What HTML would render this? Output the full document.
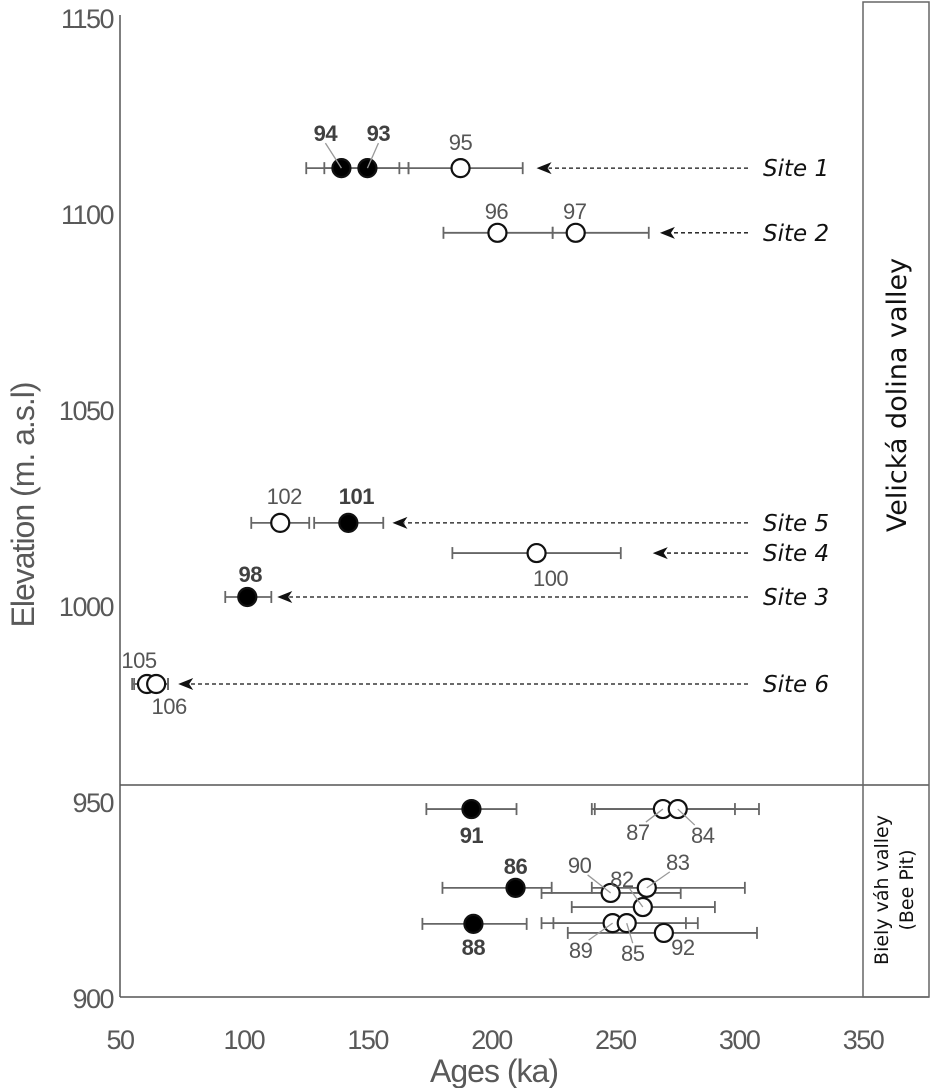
<!DOCTYPE html>
<html><head><meta charset="utf-8"><style>
html,body{margin:0;padding:0;background:#fff;}
svg{display:block;font-family:"Liberation Sans",sans-serif;}
</style></head><body>
<svg id="chart" width="930" height="1088" viewBox="0 0 930 1088" xmlns="http://www.w3.org/2000/svg">
<g id="frame">
<line x1="120" y1="15" x2="120" y2="997" stroke="#555" stroke-width="1.5"/>
<line x1="120" y1="997" x2="929" y2="997" stroke="#555" stroke-width="1.5"/>
<line x1="120" y1="785" x2="929" y2="785" stroke="#555" stroke-width="1.5"/>
<rect x="863" y="2" width="66" height="995" fill="none" stroke="#666" stroke-width="1.5"/>
<text transform="translate(906,395) rotate(-90)" text-anchor="middle" font-family="DejaVu Sans,sans-serif" font-size="27" fill="#111">Velická dolina valley</text>
<text transform="translate(888,890) rotate(-90)" text-anchor="middle" font-family="DejaVu Sans,sans-serif" font-size="19" fill="#111">Biely váh valley</text>
<text transform="translate(913,890) rotate(-90)" text-anchor="middle" font-family="DejaVu Sans,sans-serif" font-size="19" fill="#111">(Bee Pit)</text>
<text x="494" y="1082" text-anchor="middle" font-size="32" letter-spacing="-1" fill="#595959">Ages (ka)</text>
<text transform="translate(34,505) rotate(-90)" text-anchor="middle" font-size="32" letter-spacing="-1" fill="#595959">Elevation (m. a.s.l)</text>
</g>
<g id="axes"></g><g id="marks"></g>
</svg>
<script>
const xTicks=[50,100,150,200,250,300,350];
const yTicks=[900,950,1000,1050,1100,1150];
const sampleIds=['94','93','95','96','97','102','101','100','98','105','106','91','87','84','86','83','90','82','88','89','85','92'];
const ages=[139.4,149.9,187.5,202.4,234.0,114.7,142.2,218.2,101.4,60.9,64.6,191.9,269.2,275.2,209.7,262.7,248.1,261.1,192.7,248.9,254.6,269.6];
const ageLow=[125.2,132.5,166.5,180.6,224.7,103.0,128.4,184.2,92.5,54.9,55.7,173.7,240.5,241.7,180.2,240.5,220.2,232.4,172.1,220.2,225.0,230.8];
const ageHigh=[162.8,166.5,212.6,224.7,263.5,126.4,156.3,252.2,111.1,69.4,69.4,210.1,298.3,308.0,224.3,302.3,276.4,290.2,214.2,278.5,283.3,307.2];
const elevations=[1111.7,1111.7,1111.7,1095.2,1095.2,1021.2,1021.2,1013.5,1002.3,980.1,980.1,948.2,948.2,948.2,928.1,928.1,926.8,923.2,918.9,919.1,919.1,916.6];
const filled=[1,1,0,0,0,0,1,0,1,0,0,1,0,0,1,0,0,0,1,0,0,0];
const siteNames=['Site 1','Site 2','Site 5','Site 4','Site 3','Site 6'];
const siteElev=[1111.7,1095.2,1021.2,1013.5,1002.3,980.1];
const siteArrowAge=[218.2,268.0,160.0,265.1,113.5,73.5];
// layout (label offsets in px, not data)
const labelDx=[-16,11,0,-1,-1,4,8,14,3,-8,13,0,-25,25,0,31,-31,-21,0,-32,6,19];
const labelDy=[-35,-35,-26,-22,-22,-27,-27,25,-23,-24,22,26,23,26,-22,-26,-28,-28,23,27,30,14];
const leader=[1,1,0,0,0,0,0,0,0,0,0,0,1,1,0,1,1,1,0,1,1,0];
const X=v=>120+(v-50)*(743/300);
const Y=v=>998-(v-900)*3.92;
const NS='http://www.w3.org/2000/svg';
function mk(tag,attrs,parent,txt){const e=document.createElementNS(NS,tag);for(const k in attrs)e.setAttribute(k,attrs[k]);if(txt!==undefined)e.textContent=txt;parent.appendChild(e);return e;}
const axes=document.getElementById('axes'),marks=document.getElementById('marks');
xTicks.forEach(t=>{const e=mk('text',{x:X(t),y:1049,'text-anchor':'middle','font-size':'27','letter-spacing':'-1.5',fill:'#595959'},axes,String(t));

});
yTicks.forEach(t=>{const e=mk('text',{x:113,y:Y(t)+10,'text-anchor':'end','font-size':'27','letter-spacing':'-1.5',fill:'#595959'},axes,String(t));

});
siteNames.forEach((s,i)=>{const y=Y(siteElev[i]);const tx=X(siteArrowAge[i]);
const l=mk('line',{x1:748,y1:y,x2:tx+12,y2:y,stroke:'#111','stroke-width':'1.3','stroke-dasharray':'4,3'},marks);


const h=mk('polygon',{points:`${tx},${y} ${tx+15},${y-6} ${tx+11},${y} ${tx+15},${y+6}`,fill:'#111'},marks);


const t=mk('text',{x:763,y:y+8,'font-size':'23','font-style':'italic','font-family':'DejaVu Sans,sans-serif',fill:'#111'},marks,s);

});
sampleIds.forEach((id,i)=>{const y=Y(elevations[i]),x1=X(ageLow[i]),x2=X(ageHigh[i]);
const g=mk('g',{},marks);


mk('line',{x1:x1,y1:y,x2:x2,y2:y,stroke:'#666','stroke-width':'1.8'},g);
mk('line',{x1:x1,y1:y-6,x2:x1,y2:y+6,stroke:'#666','stroke-width':'1.8'},g);
mk('line',{x1:x2,y1:y-6,x2:x2,y2:y+6,stroke:'#666','stroke-width':'1.8'},g);});
sampleIds.forEach((id,i)=>{const y=Y(elevations[i]),x=X(ages[i]);
const c=mk('circle',{cx:x,cy:y,r:9,fill:filled[i]?'#000':'#fff',stroke:'#111','stroke-width':'2.2'},marks);


const lx=x+labelDx[i],ly=y+labelDy[i];
if(leader[i]){const ll=mk('line',{x1:lx+(labelDx[i]>0?-8:8)*(Math.abs(labelDx[i])>20?1:0),y1:ly+(labelDy[i]<0?10:-10),x2:x,y2:y,stroke:'#999','stroke-width':'1.3'},marks);

}
const t=mk('text',{x:lx,y:ly+8,'text-anchor':'middle','font-size':'22','letter-spacing':'-0.5','font-weight':filled[i]?'bold':'normal',fill:filled[i]?'#404040':'#555'},marks,id);

});
</script>
</body></html>
